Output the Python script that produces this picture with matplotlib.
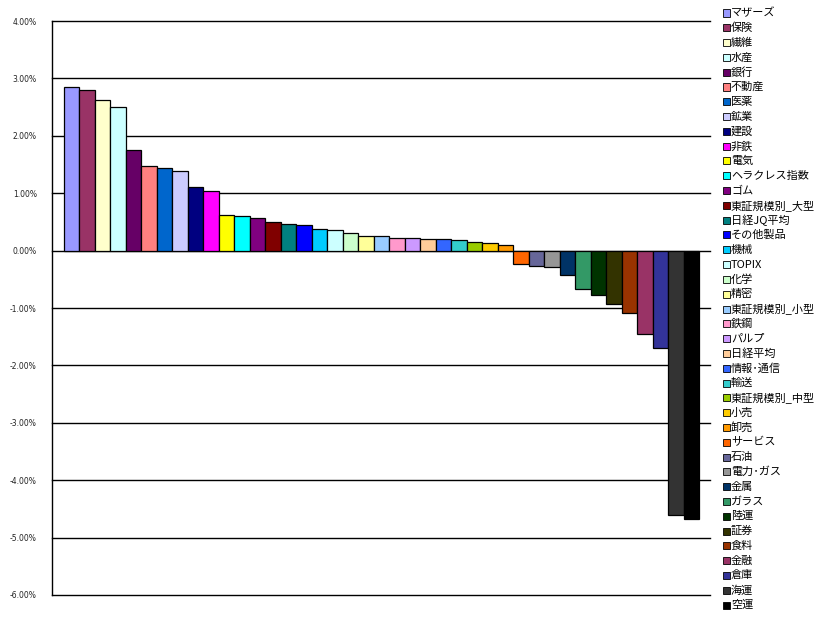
import matplotlib
matplotlib.use("Agg")
import matplotlib.pyplot as plt
import numpy as np
from matplotlib.patches import Rectangle
from matplotlib.ticker import FuncFormatter

categories = ["マザーズ", "保険", "繊維", "水産", "銀行", "不動産", "医薬", "鉱業", "建設", "非鉄",
              "電気", "ヘラクレス指数", "ゴム", "東証規模別_大型", "日経JQ平均", "その他製品", "機械", "TOPIX",
              "化学", "精密", "東証規模別_小型", "鉄鋼", "パルプ", "日経平均", "情報･通信", "輸送",
              "東証規模別_中型", "小売", "卸売", "サービス", "石油", "電力･ガス", "金属", "ガラス",
              "陸運", "証券", "食料", "金融", "倉庫", "海運", "空運"]
values = [2.85, 2.80, 2.62, 2.50, 1.75, 1.47, 1.44, 1.39, 1.11, 1.04,
          0.62, 0.60, 0.57, 0.50, 0.465, 0.45, 0.38, 0.36, 0.31, 0.26,
          0.255, 0.22, 0.22, 0.20, 0.20, 0.19, 0.15, 0.13, 0.10, -0.23,
          -0.26, -0.28, -0.42, -0.67, -0.77, -0.93, -1.09, -1.45, -1.70, -4.61, -4.67]
colors = ["#9999FF", "#993366", "#FFFFCC", "#CCFFFF", "#660066", "#FF8080", "#0066CC", "#CCCCFF",
          "#000080", "#FF00FF", "#FFFF00", "#00FFFF", "#800080", "#800000", "#008080", "#0000FF",
          "#00CCFF", "#CCFFFF", "#CCFFCC", "#FFFF99", "#99CCFF", "#FF99CC", "#CC99FF", "#FFCC99",
          "#3366FF", "#33CCCC", "#99CC00", "#FFCC00", "#FF9900", "#FF6600", "#666699", "#969696",
          "#003366", "#339966", "#003300", "#333300", "#993300", "#993366", "#333399", "#333333",
          "#000000"]
yticks = [4, 3, 2, 1, 0, -1, -2, -3, -4, -5, -6]

W, H = 833, 618
fig = plt.figure(figsize=(W / 100, H / 100), dpi=100)
ax = fig.add_axes([52 / W, 1 - 595 / H, (710 - 52) / W, (595 - 21) / H])

x = np.arange(len(values))
ax.bar(x, values, width=1.0, color=colors, edgecolor="black", linewidth=0.9, zorder=3)

ax.set_ylim(-6, 4)
ax.set_xlim(-0.5 - 0.77, len(values) - 0.5 + 0.71)
ax.set_yticks(yticks)
ax.yaxis.set_major_formatter(FuncFormatter(lambda v, p: f"{v:.2f}%"))
ax.tick_params(axis="y", length=0, pad=11, labelsize=5.5, labelcolor="#222222")
ax.set_xticks([])
for s in ["top", "right", "bottom"]:
    ax.spines[s].set_visible(False)
ax.spines["left"].set_linewidth(1.0)
for t in yticks:
    ax.axhline(t, color="black", linewidth=1.0, zorder=1, clip_on=False)

# legend
y0 = 13
pitch = 14.8
for i, (lab, col) in enumerate(zip(categories, colors)):
    yc = y0 + i * pitch
    fig.patches.append(Rectangle(((723) / W, 1 - (yc + 3.5) / H), 7 / W, 7 / H,
                                 transform=fig.transFigure, facecolor=col,
                                 edgecolor="black", linewidth=0.6))
    fig.text(731 / W, 1 - yc / H, lab, fontsize=8, va="center", ha="left",
             family=["Noto Sans CJK JP", "DejaVu Sans"])

fig.savefig("out.png", dpi=100)
